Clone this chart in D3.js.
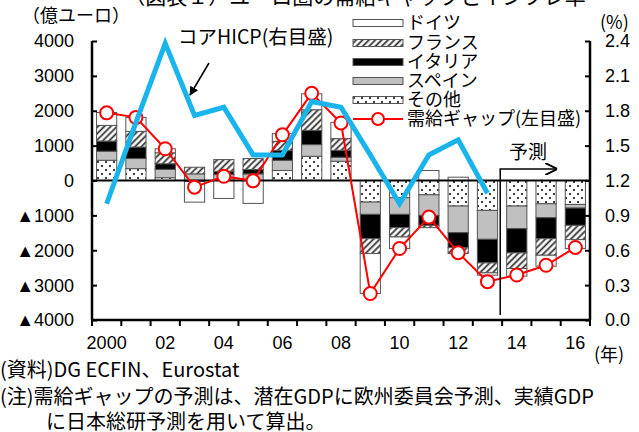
<!DOCTYPE html>
<html>
<head>
<meta charset="utf-8">
<script src="https://cdn.jsdelivr.net/npm/d3@7/dist/d3.min.js"></script>
<style>
  html, body { margin: 0; padding: 0; background: #fff; }
  svg { display: block; font-family: "Liberation Sans", "Noto Sans CJK JP", sans-serif; }
  .jp { font-family: "Noto Sans CJK JP", sans-serif; }
</style>
</head>
<body>
<svg id="chart" width="639" height="432"></svg>
<script>
// Years on the x axis (2014-2016 are forecasts)
const years = ["2000","2001","2002","2003","2004","2005","2006","2007","2008",
               "2009","2010","2011","2012","2013","2014","2015","2016"];
const yearLabels = ["2000","","02","","04","","06","","08","","10","","12","","14","","16"];

// Output-gap contributions by country (100 million EUR), stacked bottom to top
const other   = [580, 340,  80,   0,   0,   0, 286, 695, 552, -619, -495, -410, -733, -857, -733, -667, -686];
const spain   = [260, 290, 240, 190, 170, 190, 294, 334, 115, -352, -476, -590, -762, -829, -648, -400, -104];
const italy   = [290, 330, 160, -30,  96, 124, 286, 409, 200, -696, -381, -286, -429, -676, -695, -600, -496];
const france  = [450, 450, 315, 190, 334, 316, 258, 591, 333, -428, -267,  -67, -171, -286, -448, -476, -409];
const germany = [370, 400, 115, -590, -515, -657, 219, 457, 467, -1143, -333, 286, 95, -67, -219, -314, -257];

// Euro-area output gap (left axis, 100 million EUR)
const outputGap = [1940, 1810, 910, -190, 120, -10, 1310, 2500, 1650,
                   -3240, -1950, -1050, -2070, -2900, -2710, -2430, -1920];

// Core HICP (right axis, %), actual years only
const hicpYears = ["2000","2001","2002","2003","2004","2005","2006","2007","2008",
                   "2009","2010","2011","2012","2013"];
const coreHicp = [1.0, 1.7, 2.38, 1.76, 1.83, 1.42, 1.42, 1.88, 1.83, 1.42, 1.0, 1.42, 1.55, 1.09];

// Axis ticks
const leftTicks = [4000, 3000, 2000, 1000, 0, -1000, -2000, -3000, -4000];
const rightTicks = [0, 0.3, 0.6, 0.9, 1.2, 1.5, 1.8, 2.1, 2.4];

// Series in stacking order; legend lists them in reverse
const seriesNames = ["その他", "スペイン", "イタリア", "フランス", "ドイツ"];
const seriesValues = [other, spain, italy, france, germany];
const seriesFill = ["url(#dots)", "#c0c0c0", "#000000", "url(#hatch)", "#ffffff"];

const svg = d3.select("#chart");
const plotLeft = 92, plotRight = 590, plotTop = 41, plotBottom = 320;

const x = d3.scaleBand().domain(years).range([plotLeft, plotRight]).paddingInner(0.31).paddingOuter(0.155);
const y = d3.scaleLinear().domain([-4000, 4000]).range([plotBottom, plotTop]);
const yR = d3.scaleLinear().domain([0, 2.4]).range([plotBottom, plotTop]);

// Fill patterns
const defs = svg.append("defs");
const hatch = defs.append("pattern").attr("id", "hatch")
  .attr("patternUnits", "userSpaceOnUse").attr("width", 4.5).attr("height", 4.5)
  .attr("patternTransform", "rotate(45)");
hatch.append("rect").attr("width", 4.5).attr("height", 4.5).attr("fill", "#fff");
hatch.append("line").attr("x1", 1.2).attr("y1", 0).attr("x2", 1.2).attr("y2", 4.5)
  .attr("stroke", "#333").attr("stroke-width", 1.8);
const dots = defs.append("pattern").attr("id", "dots")
  .attr("patternUnits", "userSpaceOnUse").attr("width", 8).attr("height", 8);
dots.append("rect").attr("width", 8).attr("height", 8).attr("fill", "#fff");
dots.append("circle").attr("cx", 2).attr("cy", 2).attr("r", 1).attr("fill", "#000");
dots.append("circle").attr("cx", 6).attr("cy", 6).attr("r", 1).attr("fill", "#000");

// Stack positives upward and negatives downward
const segments = [];
years.forEach((yr, i) => {
  let pos = 0, neg = 0;
  seriesValues.forEach((vals, s) => {
    const v = vals[i];
    if (v === 0) return;
    let y0, y1;
    if (v > 0) { y0 = pos; y1 = pos + v; pos = y1; }
    else { y0 = neg; y1 = neg + v; neg = y1; }
    segments.push({ year: yr, s, y0, y1 });
  });
});

svg.append("g").selectAll("rect").data(segments).join("rect")
  .attr("x", d => x(d.year))
  .attr("width", x.bandwidth())
  .attr("y", d => y(Math.max(d.y0, d.y1)))
  .attr("height", d => Math.abs(y(d.y0) - y(d.y1)))
  .attr("fill", d => seriesFill[d.s])
  .attr("stroke", "#555").attr("stroke-width", 1);

// Zero line
svg.append("line").attr("x1", plotLeft).attr("x2", plotRight)
  .attr("y1", y(0)).attr("y2", y(0)).attr("stroke", "#000").attr("stroke-width", 2);

// Output gap line with open circles
const cx = d => x(d) + x.bandwidth() / 2;
const gapLine = d3.line().x((d, i) => cx(years[i])).y(d => y(d));
svg.append("path").datum(outputGap).attr("d", gapLine)
  .attr("fill", "none").attr("stroke", "#ff0000").attr("stroke-width", 2);
svg.append("g").selectAll("circle").data(outputGap).join("circle")
  .attr("cx", (d, i) => cx(years[i])).attr("cy", d => y(d)).attr("r", 6.5)
  .attr("fill", "#fff").attr("stroke", "#ff0000").attr("stroke-width", 2);

// Core HICP line
const hicpLine = d3.line().x((d, i) => cx(hicpYears[i])).y(d => yR(d));
svg.append("path").datum(coreHicp).attr("d", hicpLine)
  .attr("fill", "none").attr("stroke", "#19b4ec").attr("stroke-width", 5)
  .attr("stroke-linejoin", "miter");

// Axes
const axisL = svg.append("g").attr("transform", `translate(${plotLeft},0)`)
  .call(d3.axisRight(y).tickValues(leftTicks).tickSize(5).tickFormat(""));
const axisR = svg.append("g").attr("transform", `translate(${plotRight},0)`)
  .call(d3.axisLeft(yR).tickValues(rightTicks).tickSize(5).tickFormat(""));
const axisB = svg.append("g").attr("transform", `translate(0,${plotBottom})`)
  .call(d3.axisBottom(x).tickSize(0).tickFormat(""));
[axisL, axisR, axisB].forEach(g => {
  g.select(".domain").attr("stroke", "#000").attr("stroke-width", 2.5);
  g.selectAll(".tick line").attr("stroke", "#000").attr("stroke-width", 2);
});
axisL.select(".domain").attr("d", `M0,${plotTop}V${plotBottom}`);
axisR.select(".domain").attr("d", `M0,${plotTop}V${plotBottom}`);
axisB.select(".domain").attr("d", `M${plotLeft},0H${plotRight}`);

// Bottom ticks at band boundaries
const step = x.step();
const boundaries = d3.range(years.length + 1).map(i => plotLeft + i * step);
svg.append("g").selectAll("line").data(boundaries).join("line")
  .attr("x1", d => d).attr("x2", d => d).attr("y1", plotBottom).attr("y2", plotBottom + 6)
  .attr("stroke", "#000").attr("stroke-width", 2);

// Tick labels
svg.append("g").selectAll("text").data(leftTicks).join("text")
  .attr("x", 74).attr("y", d => y(d)).attr("dy", "0.36em")
  .attr("text-anchor", "end").attr("font-size", 18)
  .text(d => d < 0 ? "▲" + (-d) : d);
svg.append("g").selectAll("text").data(rightTicks).join("text")
  .attr("x", 605).attr("y", d => yR(d)).attr("dy", "0.36em")
  .attr("font-size", 18)
  .text(d => d.toFixed(1));
svg.append("g").selectAll("text").data(years).join("text")
  .attr("x", d => cx(d)).attr("y", 349)
  .attr("text-anchor", "middle").attr("font-size", 18)
  .text((d, i) => yearLabels[i]);

// Unit labels
svg.append("text").attr("class", "jp").attr("x", 22).attr("y", 22).attr("font-size", 18).text("（億ユーロ）");
svg.append("text").attr("class", "jp").attr("x", 600).attr("y", 29).attr("font-size", 18).text("(%)");
svg.append("text").attr("class", "jp").attr("x", 594).attr("y", 361).attr("font-size", 18).text("(年)");

// Title (top edge)
svg.append("text").attr("class", "jp").attr("x", 355).attr("y", 4).attr("text-anchor", "middle")
  .attr("font-size", 21).text("（図表１）ユーロ圏の需給ギャップとインフレ率");

// Legend
const legendY = [23, 43, 62, 81, 100];
const legendOrder = [4, 3, 2, 1, 0];
const lg = svg.append("g");
legendOrder.forEach((s, k) => {
  lg.append("rect").attr("x", 353).attr("y", legendY[k] - 3.5).attr("width", 50).attr("height", 7)
    .attr("fill", seriesFill[s]).attr("stroke", "#555").attr("stroke-width", 1);
  lg.append("text").attr("class", "jp").attr("x", 407).attr("y", legendY[k]).attr("dy", "0.36em")
    .attr("font-size", 18).text(seriesNames[s]);
});
lg.append("line").attr("x1", 353).attr("x2", 403).attr("y1", 119).attr("y2", 119)
  .attr("stroke", "#ff0000").attr("stroke-width", 2);
lg.append("circle").attr("cx", 378).attr("cy", 119).attr("r", 6)
  .attr("fill", "#fff").attr("stroke", "#ff0000").attr("stroke-width", 2);
lg.append("text").attr("class", "jp").attr("x", 407).attr("y", 119).attr("dy", "0.36em")
  .attr("font-size", 18).text("需給ギャップ(左目盛)");

// Core HICP annotation with arrow
defs.append("marker").attr("id", "arrow").attr("viewBox", "0 0 10 10")
  .attr("refX", 9).attr("refY", 5).attr("markerWidth", 9).attr("markerHeight", 9)
  .attr("orient", "auto").attr("markerUnits", "userSpaceOnUse")
  .append("path").attr("d", "M0,0L10,5L0,10z").attr("fill", "#000");
svg.append("line").attr("x1", 209).attr("y1", 63).attr("x2", 190).attr("y2", 95)
  .attr("stroke", "#000").attr("stroke-width", 1.5).attr("marker-end", "url(#arrow)");
svg.append("text").attr("class", "jp").attr("x", 178).attr("y", 44).attr("font-size", 19.5)
  .text("コアHICP(右目盛)");

// Forecast marker
const fx = x("2014") - step * 0.22;
defs.append("marker").attr("id", "openArrow").attr("viewBox", "0 0 10 10")
  .attr("refX", 10).attr("refY", 5).attr("markerWidth", 12).attr("markerHeight", 12)
  .attr("orient", "auto").attr("markerUnits", "userSpaceOnUse")
  .append("path").attr("d", "M0,0L10,5L0,10").attr("fill", "none").attr("stroke", "#000").attr("stroke-width", 1.6);
svg.append("path").attr("d", `M${fx},${315}V${169}H${fx + 57}`)
  .attr("fill", "none").attr("stroke", "#000").attr("stroke-width", 1.5)
  .attr("marker-end", "url(#openArrow)");
svg.append("text").attr("class", "jp").attr("x", 528).attr("y", 159).attr("text-anchor", "middle")
  .attr("font-size", 19).text("予測");

// Notes
const notes = svg.append("g").attr("class", "jp").attr("font-size", 20);
notes.append("text").attr("x", 0).attr("y", 377).text("(資料)DG ECFIN、Eurostat");
notes.append("text").attr("x", 0).attr("y", 404).text("(注)需給ギャップの予測は、潜在GDPに欧州委員会予測、実績GDP");
notes.append("text").attr("x", 46).attr("y", 429).text("に日本総研予測を用いて算出。");
</script>
</body>
</html>
